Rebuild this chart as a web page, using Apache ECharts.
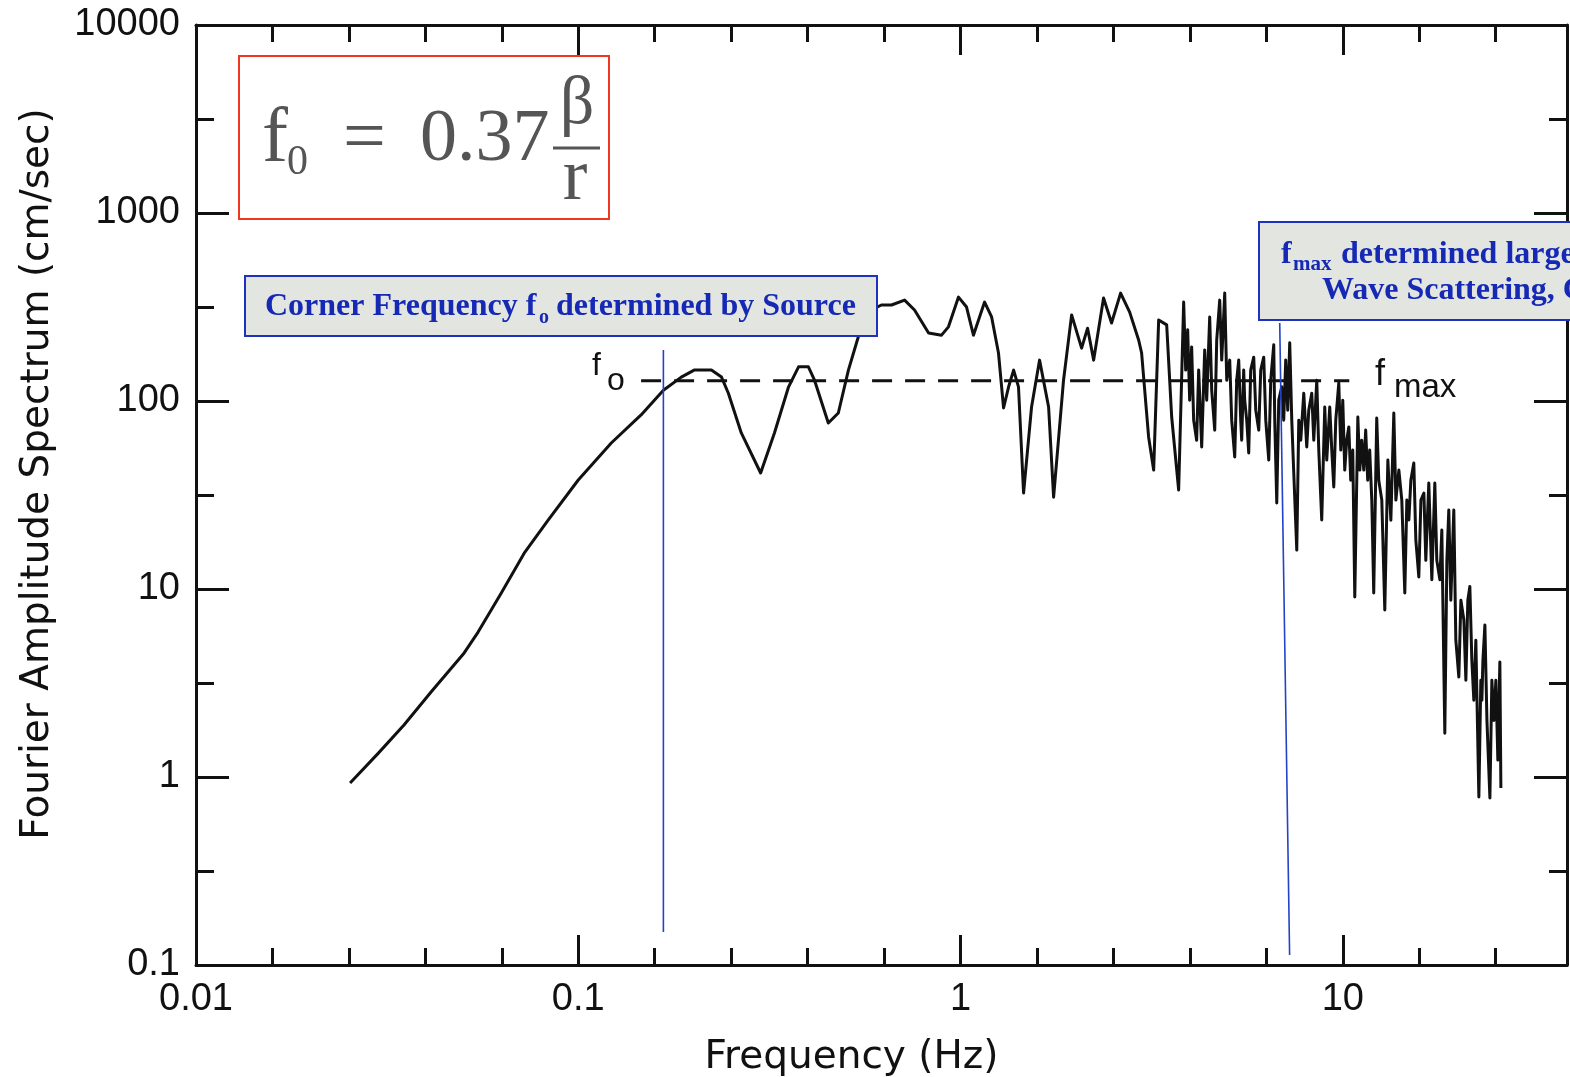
<!DOCTYPE html>
<html>
<head>
<meta charset="utf-8">
<title>Fourier Amplitude Spectrum</title>
<script src="https://cdn.jsdelivr.net/npm/echarts@6/dist/echarts.min.js"></script>
<style>
  html, body { margin: 0; padding: 0; background: #fff; }
  #main { width: 1570px; height: 1077px; }
</style>
</head>
<body>
<div id="main"></div>
<script>
// spectrum (Hz, cm/sec)
const freq = [
  0.0253, 0.030, 0.035, 0.0412, 0.0503, 0.0547, 0.0629, 0.0722, 0.0835, 0.100,
  0.122, 0.146, 0.167, 0.186, 0.201, 0.223, 0.237, 0.247, 0.267, 0.300,
  0.326, 0.355, 0.377, 0.400, 0.415, 0.451, 0.479, 0.509, 0.544, 0.585,
  0.621, 0.660, 0.714, 0.758, 0.825, 0.892, 0.930, 0.988, 1.037, 1.081,
  1.156, 1.206, 1.257, 1.296, 1.336, 1.377, 1.418, 1.462, 1.534, 1.610,
  1.700, 1.752, 1.860, 1.953, 2.074, 2.150, 2.230, 2.367, 2.484, 2.623,
  2.770, 2.924, 2.977, 3.105, 3.201, 3.299, 3.462, 3.568, 3.721,
  // dense part above ~3.8 Hz
  3.835, 3.882, 3.929, 3.976, 4.024, 4.073, 4.147, 4.198, 4.275, 4.353,
  4.406, 4.486, 4.541, 4.624, 4.680, 4.765, 4.823, 4.911, 4.971, 5.061,
  5.122, 5.216, 5.279, 5.343, 5.408, 5.440, 5.506, 5.539, 5.607, 5.675,
  5.743, 5.849, 5.920, 6.028, 6.101, 6.212, 6.288, 6.403, 6.480, 6.598,
  6.638, 6.719, 6.800, 6.923, 7.007, 7.092, 7.178, 7.265, 7.355, 7.444,
  7.580, 7.672, 7.765, 7.906, 8.050, 8.148, 8.296, 8.397, 8.550, 8.654,
  8.810, 8.971, 9.080, 9.245, 9.359, 9.473, 9.587, 9.763, 9.881, 10.00,
  10.12, 10.24, 10.37, 10.49, 10.62, 10.75, 10.95, 11.08, 11.21, 11.35,
  11.48, 11.62, 11.76, 11.91, 12.05, 12.27, 12.42, 12.65, 12.88, 13.12,
  13.36, 13.60, 13.77, 14.02, 14.27, 14.53, 14.71, 14.89, 15.07, 15.34,
  15.53, 15.81, 16.01, 16.30, 16.49, 16.79, 17.10, 17.41, 17.62, 17.95,
  18.16, 18.49, 18.72, 18.94, 19.17, 19.52, 19.76, 20.12, 20.37, 20.74,
  20.99, 21.24, 21.50, 21.76, 22.02, 22.29, 22.70, 22.97, 23.12, 23.26,
  23.54, 23.83, 24.26, 24.55, 24.85, 25.15, 25.45, 25.76, 25.92
]
const amp = [
  0.93, 1.34, 1.89, 2.83, 4.57, 5.90, 9.53, 15.5, 23.3, 38.0,
  59.8, 84.3, 114, 134, 146, 146, 134, 110, 67.6, 41.4,
  67.6, 119, 152, 152, 129, 76.4, 86.3, 146, 230, 305,
  324, 324, 344, 305, 230, 224, 248, 357, 316, 224,
  336, 280, 180, 91.8, 119, 146, 119, 32.4, 92.9, 165,
  92.9, 30.8, 129, 287, 191, 244, 165, 353, 260, 375,
  297, 211, 180, 64.4, 42.9, 270, 254, 82.2, 33.6,
  336, 146, 239, 101, 194, 79.1, 61.9, 146, 56.9, 187,
  101, 280, 114, 70.0, 211, 344, 165, 375, 129, 165,
  79.1, 50.4, 129, 165, 79.1, 61.9, 146, 101, 79.1, 52.9,
  146, 171, 89.4, 70.0, 146, 171, 79.1, 48.5, 129, 199,
  79.1, 28.7, 101, 119, 79.1, 165, 89.4, 204, 79.1, 41.4,
  16.1, 79.1, 61.9, 110, 56.9, 89.4, 110, 61.9, 129, 54.8,
  23.3, 92.9, 48.5, 92.9, 54.8, 34.9, 79.1, 125, 54.8, 101,
  42.9, 61.9, 72.8, 37.9, 54.8, 9.06, 82.2, 42.9, 61.9, 42.9,
  70.0, 37.9, 54.8, 29.7, 9.53, 81.2, 37.9, 29.7, 7.73, 48.5,
  23.2, 86.3, 29.7, 42.9, 29.7, 9.53, 29.7, 23.3, 37.9, 46.8,
  18.2, 11.6, 29.7, 32.4, 14.2, 36.6, 11.2, 36.6, 14.2, 11.2,
  20.6, 1.71, 14.2, 26.3, 8.72, 26.3, 5.34, 3.40, 8.72, 6.84,
  3.27, 8.72, 10.3, 4.18, 2.56, 5.34, 0.783, 3.27, 2.56, 4.18,
  6.44, 2.00, 0.773, 3.27, 2.00, 3.27, 1.23, 4.09, 0.873
]

// flat plateau level (dashed) and the two marker lines
const plateauFreq = [0.146, 10.4]
const plateauAmp = [128, 128]
const cornerFreq = [0.167, 0.167]
const cornerAmp = [0.15, 187]
const fmaxFreq = [6.84, 7.26]
const fmaxAmp = [260, 0.113]

// ticks
const xMajor = [0.01, 0.1, 1, 10]
const xMinor = [0.01585, 0.02512, 0.03981, 0.0631, 0.1585, 0.2512, 0.3981, 0.631,
  1.585, 2.512, 3.981, 6.31, 15.85, 25.12]
const yMajor = [0.1, 1, 10, 100, 1000, 10000]
const yMinor = [0.3162, 3.162, 31.62, 316.2, 3162]

const ink = '#111'
const blue = '#2443c6'
const labelFont = { fontFamily: 'Liberation Sans', fontSize: 38, color: ink }

function pairs(xs, ys) {
  return xs.map((x, i) => [x, ys[i]])
}

function xAxisDef(position, ticks, len, showLine, showLabel) {
  return {
    type: 'log',
    position: position,
    min: 0.01,
    max: 38.6,
    axisLine: { show: showLine, onZero: false, lineStyle: { color: ink, width: 3 } },
    axisTick: { show: true, inside: true, length: len, customValues: ticks, lineStyle: { color: ink, width: 3 } },
    axisLabel: Object.assign({ show: showLabel, customValues: xMajor, margin: 16, formatter: v => String(v) }, labelFont),
    splitLine: { show: false },
    minorTick: { show: false }
  }
}

function yAxisDef(position, ticks, len, showLine, showLabel) {
  return {
    type: 'log',
    position: position,
    min: 0.1,
    max: 10000,
    axisLine: { show: showLine, onZero: false, lineStyle: { color: ink, width: 3 } },
    axisTick: { show: true, inside: true, length: len, customValues: ticks, lineStyle: { color: ink, width: 3 } },
    axisLabel: Object.assign({ show: showLabel, customValues: yMajor, margin: 16, formatter: v => String(v) }, labelFont),
    splitLine: { show: false },
    minorTick: { show: false }
  }
}

const xAxes = [
  xAxisDef('bottom', xMajor, 30, true, true),
  xAxisDef('bottom', xMinor, 17, false, false),
  xAxisDef('top', xMajor, 30, true, false),
  xAxisDef('top', xMinor, 17, false, false)
]
xAxes[0].name = 'Frequency (Hz)'
xAxes[0].nameLocation = 'middle'
xAxes[0].nameGap = 73
xAxes[0].nameTextStyle = { fontFamily: 'DejaVu Sans', fontSize: 39, color: ink, padding: [0, 60, 0, 0] }

const yAxes = [
  yAxisDef('left', yMajor, 33, true, true),
  yAxisDef('left', yMinor, 18, false, false),
  yAxisDef('right', yMajor, 33, true, false),
  yAxisDef('right', yMinor, 18, false, false)
]
yAxes[0].name = 'Fourier Amplitude Spectrum (cm/sec)'
yAxes[0].nameLocation = 'middle'
yAxes[0].nameGap = 139
yAxes[0].nameRotate = 90
yAxes[0].nameTextStyle = { fontFamily: 'DejaVu Sans', fontSize: 39, color: ink, padding: [0, 0, 0, 42] }

function txt(x, y, text, size, opts) {
  const o = opts || {}
  return {
    type: 'text',
    x: x,
    y: y,
    z: 110,
    style: {
      text: text,
      fontSize: size,
      fontFamily: o.family || 'Liberation Serif',
      fontWeight: o.weight || 'normal',
      fill: o.color || ink,
      align: o.align || 'left',
      verticalAlign: 'middle'
    }
  }
}

const navy = '#1529b5'
const grey = '#555'
const graphics = [
  // formula box
  { type: 'rect', z: 100, shape: { x: 239, y: 56, width: 370, height: 163 },
    style: { fill: '#fff', stroke: '#f0361e', lineWidth: 2 } },
  txt(262, 141, 'f', 78, { color: grey }),
  txt(287, 163, '0', 42, { color: grey }),
  txt(343, 141, '=', 76, { color: grey }),
  txt(420, 141, '0.37', 74, { color: grey }),
  txt(577, 105, 'β', 68, { color: grey, align: 'center' }),
  { type: 'line', z: 110, shape: { x1: 553, y1: 148, x2: 600, y2: 148 }, style: { stroke: grey, lineWidth: 3 } },
  txt(575, 180, 'r', 74, { color: grey, align: 'center' }),

  // corner frequency box
  { type: 'rect', z: 100, shape: { x: 245, y: 276, width: 632, height: 60 },
    style: { fill: '#e3e5e0', stroke: '#1d33c0', lineWidth: 2 } },
  txt(265, 307, 'Corner Frequency f', 32, { weight: 'bold', color: navy }),
  txt(539, 318, 'o', 20, { weight: 'bold', color: navy }),
  txt(556, 307, 'determined by Source', 32, { weight: 'bold', color: navy }),

  // fmax box (runs off the right edge)
  { type: 'rect', z: 100, shape: { x: 1259, y: 222, width: 420, height: 98 },
    style: { fill: '#e3e5e0', stroke: '#1d33c0', lineWidth: 2 } },
  txt(1281, 255, 'f', 32, { weight: 'bold', color: navy }),
  txt(1293, 265, 'max', 21, { weight: 'bold', color: navy }),
  txt(1341, 255, 'determined largely by', 32, { weight: 'bold', color: navy }),
  txt(1322, 291, 'Wave Scattering, Geology', 32, { weight: 'bold', color: navy }),

  // plateau labels
  txt(592, 366, 'f', 32, { family: 'Liberation Sans' }),
  txt(607, 381, 'o', 32, { family: 'Liberation Sans' }),
  txt(1375, 375, 'f', 36, { family: 'Liberation Sans' }),
  txt(1394, 388, 'max', 33, { family: 'Liberation Sans' })
]

const option = {
  backgroundColor: '#fff',
  animation: false,
  grid: { left: 196, right: 3, top: 25, bottom: 112, containLabel: false, outerBoundsMode: 'none' },
  xAxis: xAxes,
  yAxis: yAxes,
  series: [
    {
      name: 'plateau',
      type: 'line',
      data: pairs(plateauFreq, plateauAmp),
      showSymbol: false,
      z: 2,
      lineStyle: { color: ink, width: 3, type: [20, 13] }
    },
    {
      name: 'spectrum',
      type: 'line',
      data: pairs(freq, amp),
      showSymbol: false,
      z: 3,
      lineStyle: { color: ink, width: 3, join: 'round' }
    },
    {
      name: 'corner',
      type: 'line',
      data: pairs(cornerFreq, cornerAmp),
      showSymbol: false,
      z: 4,
      lineStyle: { color: blue, width: 1.6 }
    },
    {
      name: 'fmax',
      type: 'line',
      data: pairs(fmaxFreq, fmaxAmp),
      showSymbol: false,
      z: 4,
      lineStyle: { color: blue, width: 1.6 }
    }
  ],
  graphic: graphics
}

const myChart = echarts.init(document.getElementById('main'), null, { renderer: 'canvas' })
myChart.setOption(option, true)
</script>
</body>
</html>
